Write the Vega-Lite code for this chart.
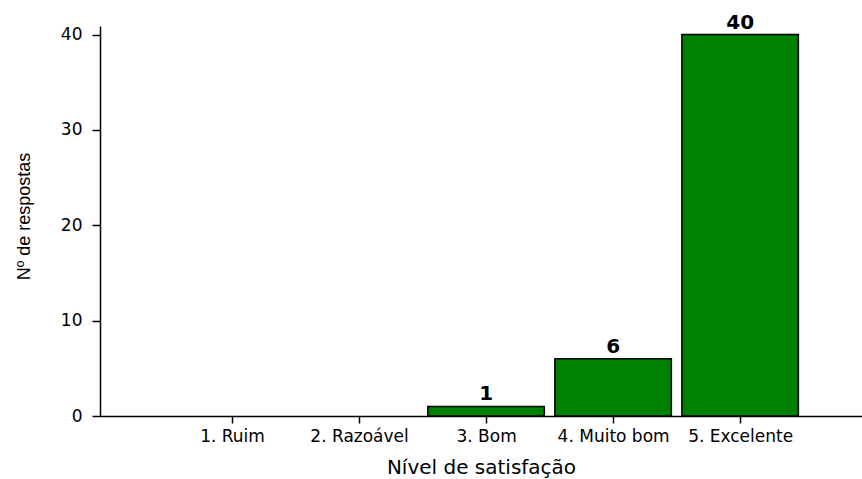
{
  "$schema": "https://vega.github.io/schema/vega-lite/v6.json",
  "autosize": {"type": "none"},
  "padding": {"left": 100, "top": 26, "right": 0, "bottom": 63},
  "width": 762,
  "height": 390,
  "background": "white",
  "config": {"view": {"stroke": null}},
  "data": {
    "values": [
      {"nivel": 1, "categoria": "1. Ruim", "respostas": 0},
      {"nivel": 2, "categoria": "2. Razoável", "respostas": 0},
      {"nivel": 3, "categoria": "3. Bom", "respostas": 1},
      {"nivel": 4, "categoria": "4. Muito bom", "respostas": 6},
      {"nivel": 5, "categoria": "5. Excelente", "respostas": 40}
    ]
  },
  "transform": [{"filter": "datum.respostas > 0"}],
  "encoding": {
    "x": {
      "field": "nivel",
      "type": "quantitative",
      "scale": {"domain": [0, 5.92], "nice": false, "zero": false},
      "axis": {
        "title": "Nível de satisfação",
        "values": [1, 2, 3, 4, 5],
        "labelExpr": "['', '1. Ruim', '2. Razoável', '3. Bom', '4. Muito bom', '5. Excelente'][datum.value]",
        "grid": false,
        "domainColor": "black",
        "domainWidth": 1.5,
        "tickColor": "black",
        "tickWidth": 1.5,
        "tickSize": 7,
        "labelFont": "DejaVu Sans",
        "labelFontSize": 17,
        "labelColor": "black",
        "labelPadding": 5,
        "labelFlush": false,
        "labelOverlap": false,
        "titleFont": "DejaVu Sans",
        "titleFontSize": 20,
        "titleFontWeight": "normal",
        "titleColor": "black",
        "titlePadding": 13
      }
    },
    "y": {
      "field": "respostas",
      "type": "quantitative",
      "scale": {"domain": [0, 40.9], "nice": false},
      "axis": {
        "title": "Nº de respostas",
        "values": [0, 10, 20, 30, 40],
        "grid": false,
        "domainColor": "black",
        "domainWidth": 1.5,
        "tickColor": "black",
        "tickWidth": 1.5,
        "tickSize": 8,
        "labelFont": "DejaVu Sans",
        "labelFontSize": 17,
        "labelColor": "black",
        "labelPadding": 10,
        "titleFont": "Liberation Sans",
        "titleFontSize": 18,
        "titleFontWeight": "normal",
        "titleColor": "black",
        "titleX": -71,
        "titleY": 190,
        "titleAngle": -90,
        "titleAlign": "center",
        "titleBaseline": "alphabetic"
      }
    }
  },
  "layer": [
    {
      "mark": {"type": "bar", "width": 116.5, "fill": "#008000", "stroke": "black", "strokeWidth": 1.5}
    },
    {
      "mark": {"type": "text", "font": "DejaVu Sans", "fontSize": 20, "fontWeight": "bold", "color": "black", "baseline": "alphabetic", "dy": -6},
      "encoding": {"text": {"field": "respostas", "type": "quantitative"}}
    }
  ]
}
